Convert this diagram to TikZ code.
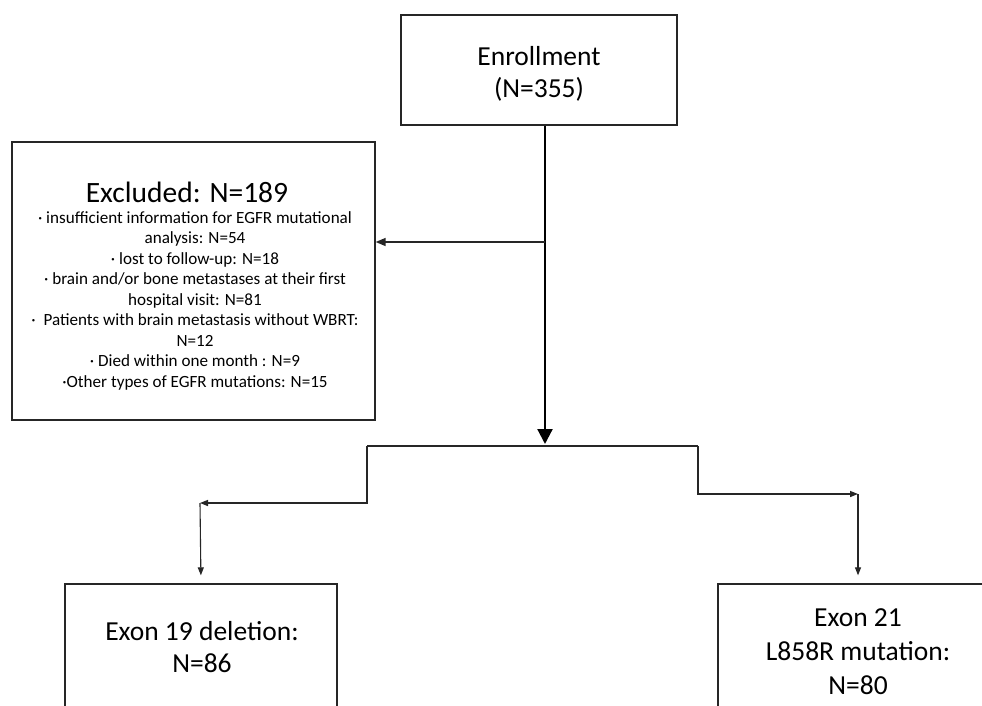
\documentclass[tikz,border=0pt]{standalone}
\usepackage{fontspec}
\setmainfont{Carlito}
\usetikzlibrary{arrows.meta}
\begin{document}
\begin{tikzpicture}[x=1pt,y=-1pt,
  box/.style={draw=black!85,line width=1.3pt,inner sep=0pt},
  lbl/.style={align=center,inner sep=0pt},
  conn/.style={draw=black!85,line width=1.4pt},
  smallarrow/.style={conn,-{Triangle[width=6pt,length=8pt]}},
  bigarrow/.style={draw=black,line width=2.2pt,-{Triangle[width=15pt,length=15pt]}}]
\useasboundingbox (0,0) rectangle (982,706);
\clip (0,0) rectangle (982,706);
\fill[white] (0,0) rectangle (982,706);
% boxes
\node[box,minimum width=276pt,minimum height=110pt] (enroll) at (539,70) {};
\node[box,minimum width=363pt,minimum height=278pt] (excl) at (193.5,281) {};
\node[box,minimum width=272pt,minimum height=132pt] (exon19) at (201,650) {};
\node[box,minimum width=280pt,minimum height=132pt] (exon21) at (858,650) {};
% texts
\node[lbl,font=\fontsize{27.5}{31.5}\selectfont] (enrolltext) at (539,74) {Enrollment\\(N=355)};
\node[lbl,font=\fontsize{17.1}{20.5}\selectfont] (excltext) at (195,286)
 {{\fontsize{29.5}{34}\selectfont Excluded: N=189\hspace*{16pt}}\\[0.5pt]
  · insufficient information for EGFR mutational\\
  analysis: N=54\\
  · lost to follow-up: N=18\\
  · brain and/or bone metastases at their first\\
  hospital visit: N=81\\
  ·\ \ Patients with brain metastasis without WBRT:\\
  N=12\\
  · Died within one month : N=9\\
  ·Other types of EGFR mutations: N=15};
\node[lbl,font=\fontsize{27.5}{32.5}\selectfont] (exon19text) at (202,647) {Exon 19 deletion:\\N=86};
\node[lbl,font=\fontsize{27.5}{34}\selectfont] (exon21text) at (858,652) {Exon 21\\L858R mutation:\\N=80};
% connectors
\coordinate (split) at (545,446);
\coordinate (branch) at (545,242);
\coordinate (lstep) at (367,446);
\coordinate (rstep) at (698,446);
\coordinate (lcorner) at (367,503);
\coordinate (lend) at (200,503);
\coordinate (rcorner) at (698,494);
\coordinate (rend) at (858,494);
\draw[bigarrow,shorten >=2pt] (enroll.south -| split) -- (split);
\draw[conn,-{Triangle[width=8pt,length=10pt]}] (branch) -- (branch -| excl.east);
\draw[conn] (lstep) -- (rstep);
\draw[smallarrow] (lstep) -- (lcorner) -- (lend);
\draw[smallarrow] (rstep) -- (rcorner) -- (rend);
\draw[smallarrow,line width=1.1pt,shorten >=8pt] (lend) -- (exon19.north);
\draw[smallarrow,line width=1.1pt,shorten >=8pt] (rend) -- (exon21.north);
\end{tikzpicture}
\end{document}
